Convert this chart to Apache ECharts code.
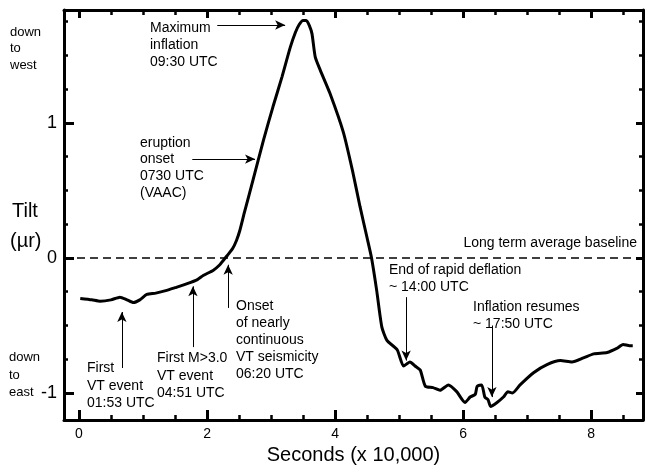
<!DOCTYPE html>
<html>
<head>
<meta charset="utf-8">
<title>Tilt record</title>
<style>
  html, body { margin: 0; padding: 0; background: #fff; }
  #main { width: 645px; height: 466px; }
</style>
</head>
<body>
<div id="main"></div>
<script src="https://cdn.jsdelivr.net/npm/echarts@6/dist/echarts.min.js"></script>
<script>
// tilt record (x in seconds x 10,000, y in microradians)
var tiltX = [0.02, 0.2, 0.33, 0.5, 0.64, 0.75, 0.85, 0.95, 1.06, 1.2, 1.37, 1.5, 1.69, 1.85, 1.94, 2.1, 2.2, 2.25, 2.32, 2.4, 2.46, 2.51, 2.58, 2.72, 2.88, 3.03, 3.17, 3.3, 3.38, 3.44, 3.5, 3.55, 3.6, 3.64, 3.69, 3.77, 3.92, 4.13, 4.28, 4.39, 4.5, 4.57, 4.65, 4.73, 4.81, 4.97, 5.07, 5.17, 5.25, 5.33, 5.41, 5.53, 5.64, 5.77, 5.9, 6.03, 6.11, 6.19, 6.22, 6.29, 6.34, 6.39, 6.43, 6.53, 6.63, 6.7, 6.77, 6.89, 7.1, 7.31, 7.52, 7.7, 7.88, 8.04, 8.25, 8.4, 8.5, 8.6, 8.65];
var tiltY = [-0.30, -0.31, -0.32, -0.31, -0.29, -0.31, -0.33, -0.31, -0.27, -0.26, -0.24, -0.22, -0.19, -0.16, -0.13, -0.09, -0.05, -0.02, 0.02, 0.07, 0.13, 0.20, 0.33, 0.58, 0.87, 1.12, 1.34, 1.56, 1.67, 1.73, 1.76, 1.76, 1.72, 1.66, 1.49, 1.39, 1.22, 0.93, 0.63, 0.38, 0.15, 0.0, -0.24, -0.51, -0.61, -0.68, -0.80, -0.77, -0.80, -0.83, -0.95, -0.96, -0.98, -0.94, -0.99, -1.07, -1.03, -1.01, -0.95, -0.94, -1.03, -1.05, -1.10, -1.07, -1.03, -0.99, -1.0, -0.94, -0.85, -0.79, -0.76, -0.77, -0.74, -0.71, -0.70, -0.67, -0.64, -0.65, -0.65];

var xMajor = [0, 2, 4, 6, 8];
var xMinor = [0.5, 1, 1.5, 2.5, 3, 3.5, 4.5, 5, 5.5, 6.5, 7, 7.5, 8.5];
var yMajor = [-1, 0, 1];
var yMinor = [-0.75, -0.5, -0.25, 0.25, 0.5, 0.75, 1.25, 1.5, 1.75];

// arrows: [x1, y1, x2, y2], head at the second point
var arrows = [
  [2.16, 1.726, 3.22, 1.726],
  [1.77, 0.733, 2.75, 0.733],
  [0.67, -0.815, 0.67, -0.40],
  [1.78, -0.66, 1.78, -0.21],
  [2.33, -0.37, 2.33, -0.05],
  [5.11, -0.29, 5.11, -0.76],
  [6.45, -0.50, 6.45, -1.03]
];

var FONT = '"Liberation Sans", Arial, sans-serif';
var X_MIN = -0.234, X_MAX = 8.81, Y_MIN = -1.2, Y_MAX = 1.837;

var chart = echarts.init(document.getElementById('main'));

function xAx(pos, values, len, w, labels, line) {
  return {
    type: 'value', position: pos, min: X_MIN, max: X_MAX,
    axisLine: { show: line, onZero: false, lineStyle: { color: '#000', width: 3 } },
    axisTick: { show: true, inside: true, length: len, customValues: values, lineStyle: { color: '#000', width: w } },
    axisLabel: labels ? { show: true, customValues: values, margin: 7, fontSize: 14, color: '#000', fontFamily: FONT } : { show: false },
    splitLine: { show: false }
  };
}
function yAx(pos, values, len, w, labels, line) {
  return {
    type: 'value', position: pos, min: Y_MIN, max: Y_MAX,
    axisLine: { show: line, onZero: false, lineStyle: { color: '#000', width: 3 } },
    axisTick: { show: true, inside: true, length: len, customValues: values, lineStyle: { color: '#000', width: w } },
    axisLabel: labels ? { show: true, customValues: values, margin: 7, fontSize: 18, color: '#000', fontFamily: FONT } : { show: false },
    splitLine: { show: false }
  };
}

var xs = [
  xAx('bottom', xMajor, 10, 3, true, true),
  xAx('bottom', xMinor, 5, 2.5, false, false),
  xAx('top', xMajor, 8, 3, false, true),
  xAx('top', xMinor, 5, 2.5, false, false)
];
xs[0].name = 'Seconds (x 10,000)';
xs[0].nameLocation = 'middle';
xs[0].nameGap = 23;
xs[0].nameTextStyle = { fontSize: 20, color: '#000', fontFamily: FONT };

var ys = [
  yAx('left', yMajor, 10, 3, true, true),
  yAx('left', yMinor, 4, 2.5, false, false),
  yAx('right', yMajor, 7, 3, false, true),
  yAx('right', yMinor, 4, 2.5, false, false)
];

var tiltData = tiltX.map(function (x, i) { return [x, tiltY[i]]; });

var arrowData = arrows.map(function (a) {
  return [{ coord: [a[0], a[1]] }, { coord: [a[2], a[3]] }];
});

function txt(left, top, text, size, lh, align) {
  return {
    type: 'text', x: left, y: top, silent: true,
    style: { text: text, fill: '#000', font: size + 'px ' + FONT, lineHeight: lh, align: align || 'left', verticalAlign: 'top' }
  };
}

chart.setOption({
  animation: false,
  backgroundColor: '#fff',
  grid: { left: 64, right: 2, top: 10, bottom: 46, outerBoundsMode: 'none' },
  xAxis: xs,
  yAxis: ys,
  series: [
    {
      type: 'line', data: tiltData, xAxisIndex: 0, yAxisIndex: 0,
      showSymbol: false, smooth: 0.2,
      lineStyle: { color: '#000', width: 3 },
      markLine: {
        silent: true, symbol: ['none', 'none'],
        label: { show: false },
        lineStyle: { color: '#000', width: 1.5, type: [8, 5] },
        data: [{ yAxis: 0 }]
      }
    },
    {
      type: 'line', data: [], xAxisIndex: 0, yAxisIndex: 0,
      markLine: {
        silent: true, symbol: ['none', 'arrow'], symbolSize: [7, 10],
        label: { show: false },
        lineStyle: { color: '#000', width: 1, type: 'solid' },
        data: arrowData
      }
    }
  ],
  graphic: [
    txt(12, 200, 'Tilt', 20, 22),
    txt(10, 230, '(\u00b5r)', 20, 22),
    txt(10, 24, 'down\nto\nwest', 13, 16.5),
    txt(9, 349, 'down\nto\neast', 13, 17.5),
    txt(150, 19.5, 'Maximum\ninflation\n09:30 UTC', 14, 17),
    txt(140, 134.5, 'eruption\nonset\n0730 UTC\n(VAAC)', 14, 16.7),
    txt(87, 359.5, 'First\nVT event\n01:53 UTC', 14, 17.5),
    txt(157, 349.5, 'First M>3.0\nVT event\n04:51 UTC', 14, 17.5),
    txt(236, 297.5, 'Onset\nof nearly\ncontinuous\nVT seismicity\n06:20 UTC', 14, 17),
    txt(637, 234.5, 'Long term average baseline', 14, 17, 'right'),
    txt(389, 261.5, 'End of rapid deflation\n~ 14:00 UTC', 14, 17),
    txt(473, 298.5, 'Inflation resumes\n~ 17:50 UTC', 14, 17)
  ]
});
</script>
</body>
</html>
